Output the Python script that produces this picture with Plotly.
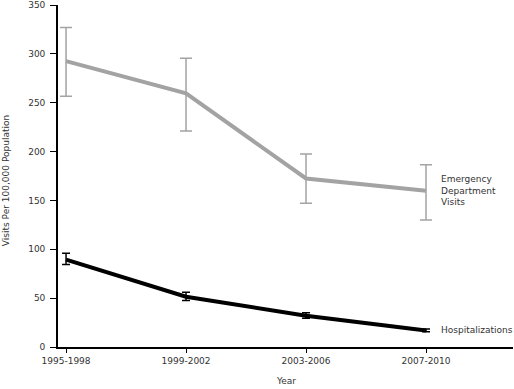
import plotly.graph_objects as go

categories = ["1995-1998", "1999-2002", "2003-2006", "2007-2010"]
ed_values = [292.5, 259.5, 172.5, 160.0]
ed_upper = [327.0, 295.5, 197.5, 186.5]
ed_lower = [256.5, 221.0, 147.0, 130.0]
hosp_values = [89.5, 51.5, 32.0, 17.0]
hosp_upper = [96.0, 56.0, 35.0, 18.5]
hosp_lower = [84.5, 47.5, 29.5, 15.5]
y_ticks = [0, 50, 100, 150, 200, 250, 300, 350]

FONT = "DejaVu Sans"
TXT = "#333333"

fig = go.Figure()
fig.add_trace(go.Scatter(
    x=categories, y=ed_values, mode="lines",
    line=dict(color="#a3a3a3", width=4),
    error_y=dict(type="data", symmetric=False,
                 array=[u - v for u, v in zip(ed_upper, ed_values)],
                 arrayminus=[v - l for v, l in zip(ed_values, ed_lower)],
                 color="#a3a3a3", thickness=1.5, width=6),
    showlegend=False, hoverinfo="skip"))
fig.add_trace(go.Scatter(
    x=categories, y=hosp_values, mode="lines",
    line=dict(color="#000000", width=4),
    error_y=dict(type="data", symmetric=False,
                 array=[u - v for u, v in zip(hosp_upper, hosp_values)],
                 arrayminus=[v - l for v, l in zip(hosp_values, hosp_lower)],
                 color="#000000", thickness=1.5, width=4),
    showlegend=False, hoverinfo="skip"))

fig.add_annotation(x=categories[-1], y=ed_values[-1], xref="x", yref="y",
                   text="Emergency<br>Department<br>Visits", showarrow=False,
                   xanchor="left", xshift=13, yshift=0, align="left",
                   font=dict(family=FONT, size=9, color=TXT))
fig.add_annotation(x=categories[-1], y=hosp_values[-1], xref="x", yref="y",
                   text="Hospitalizations", showarrow=False,
                   xanchor="left", xshift=13, align="left",
                   font=dict(family=FONT, size=9, color=TXT))
fig.add_annotation(x=0, y=0.485, xref="paper", yref="paper",
                   text="Visits Per 100,000 Population", showarrow=False,
                   textangle=-90, xanchor="center", yanchor="middle", xshift=-52,
                   font=dict(family=FONT, size=9, color=TXT))
fig.add_annotation(x=0.5, y=0, xref="paper", yref="paper",
                   text="Year", showarrow=False,
                   xanchor="center", yanchor="middle", yshift=-34,
                   font=dict(family=FONT, size=9, color=TXT))

fig.update_layout(
    width=514, height=389,
    margin=dict(l=58, r=1, t=5, b=42, autoexpand=False),
    paper_bgcolor="white", plot_bgcolor="white",
    font=dict(family=FONT, size=9, color=TXT),
    xaxis=dict(type="category", range=[-0.067, 3.725],
               showline=True, linecolor="black", linewidth=1.7,
               ticks="outside", ticklen=4, tickcolor="black", tickwidth=1.3,
               showgrid=False, zeroline=False, automargin=False),
    yaxis=dict(range=[0, 350], tickvals=y_ticks,
               showline=True, linecolor="black", linewidth=1.7,
               ticks="outside", ticklen=6, tickcolor="black", tickwidth=1.3,
               ticklabelstandoff=3,
               showgrid=False, zeroline=False, automargin=False),
)

fig.write_html("out.html", config={"displayModeBar": False},
               post_script="document.body.style.margin='0px';document.body.style.padding='0px';")
